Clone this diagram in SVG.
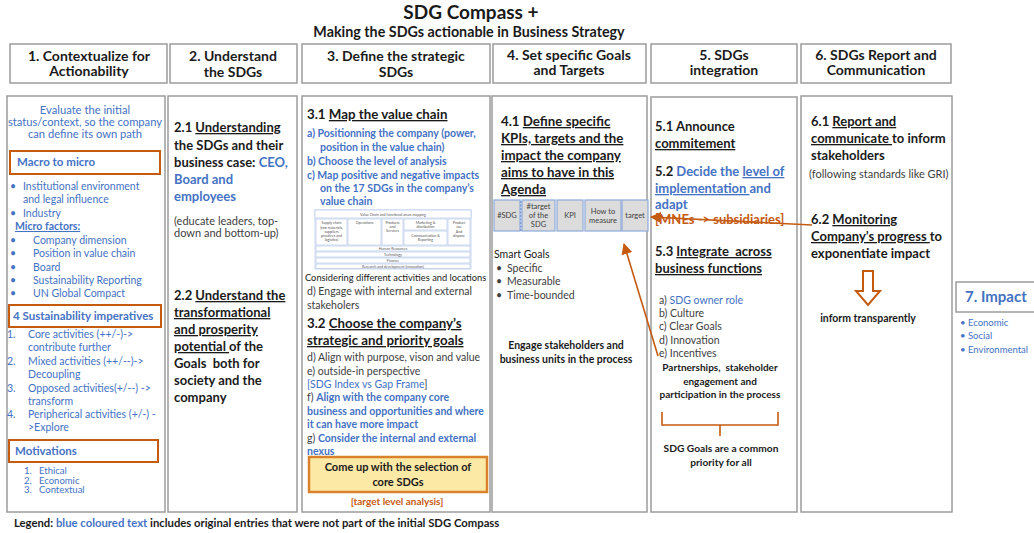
<svg xmlns="http://www.w3.org/2000/svg" width="1034" height="533" viewBox="0 0 1034 533">
  <defs>
    <style>
      text { font-family: Lato, "Liberation Sans", sans-serif; fill: #1a1a1a; }
      .title { font-size: 19px; font-weight: 700; }
      .subtitle { font-size: 14.3px; font-weight: 700; }
      .hdr { font-size: 14px; font-weight: 700; text-anchor: middle; }
      .box { fill: #ffffff; stroke: #9c9c9c; stroke-width: 1.5; }
      .obox { fill: #ffffff; stroke: #c55a11; stroke-width: 2; }
      .blue { fill: #4472c4; }
      .orange { fill: #c55a11; }
      .gray { fill: #404040; }
      .b { font-weight: 700; }
      .u { text-decoration: underline; }
      .c1 { font-size: 10.5px; }
      .c1h { font-size: 11.5px; font-weight: 700; fill: #4472c4; }
      .h2 { font-size: 13px; font-weight: 700; }
      .sm { font-size: 11px; fill: #404040; }
      .t3 { font-size: 13.3px; font-weight: 700; }
      .t3b { font-size: 10.5px; font-weight: 700; fill: #4472c4; }
      .t3n { font-size: 10.5px; fill: #404040; }
      .mid { text-anchor: middle; }
      .vc { fill: #ffffff; stroke: #b4c6e7; stroke-width: 0.7; }
      .vct { font-size: 3.6px; fill: #555; text-anchor: middle; }
      .kpi { fill: #dcdcdc; stroke: #8eaadb; stroke-width: 1.2; }
      .kpit { font-size: 7.5px; fill: #404040; text-anchor: middle; }
      .arrow { fill: none; stroke: #c55a11; stroke-width: 1.6; }
    </style>
    <marker id="ahead" viewBox="0 0 10 10" refX="9" refY="5" markerWidth="7" markerHeight="7" orient="auto">
      <path d="M0,0 L10,5 L0,10 z" fill="#c55a11"/>
    </marker>
  </defs>

  <rect width="1034" height="533" fill="#ffffff"/>

  <!-- Title -->
  <g id="title">
    <text class="title mid" x="471" y="19">SDG Compass +</text>
    <text class="subtitle mid" x="469" y="37">Making the SDGs actionable in Business Strategy</text>
  </g>

  <!-- Step headers -->
  <g id="header-1">
    <rect class="box" x="10" y="44" width="157" height="39"/>
    <text class="hdr" x="89" y="61">1. Contextualize for</text>
    <text class="hdr" x="89" y="76">Actionability</text>
  </g>
  <g id="header-2">
    <rect class="box" x="170" y="44" width="127" height="39"/>
    <text class="hdr" x="233" y="61">2. Understand</text>
    <text class="hdr" x="233" y="77">the SDGs</text>
  </g>
  <g id="header-3">
    <rect class="box" x="302" y="44" width="188" height="39"/>
    <text class="hdr" x="396" y="61">3. Define the strategic</text>
    <text class="hdr" x="396" y="77">SDGs</text>
  </g>
  <g id="header-4">
    <rect class="box" x="493" y="44" width="153" height="39"/>
    <text class="hdr" x="569" y="60">4. Set specific Goals</text>
    <text class="hdr" x="569" y="75">and Targets</text>
  </g>
  <g id="header-5">
    <rect class="box" x="651" y="44" width="146" height="39"/>
    <text class="hdr" x="724" y="60">5. SDGs</text>
    <text class="hdr" x="724" y="75">integration</text>
  </g>
  <g id="header-6">
    <rect class="box" x="801" y="44" width="150" height="39"/>
    <text class="hdr" x="876" y="60">6. SDGs Report and</text>
    <text class="hdr" x="876" y="75">Communication</text>
  </g>

  <!-- Column 1: contextualize -->
  <g id="col-1">
    <rect class="box" x="7" y="96" width="158" height="416"/>
    <text class="blue mid" x="85" y="114" font-size="11.2">Evaluate the initial</text>
    <text class="blue mid" x="85" y="126" font-size="11.2">status/context, so the company</text>
    <text class="blue mid" x="85" y="138" font-size="11.2">can define its own path</text>

    <rect class="obox" x="10" y="151" width="150" height="23"/>
    <text class="c1h" x="17" y="166">Macro to micro</text>

    <text class="c1 blue" x="10" y="190">•<tspan x="23">Institutional environment</tspan></text>
    <text class="c1 blue" x="23" y="203">and legal influence</text>
    <text class="c1 blue" x="10" y="217">•<tspan x="23">Industry</tspan></text>
    <text class="c1 blue b u" x="15" y="230">Micro factors:</text>
    <text class="c1 blue" x="10" y="244">•<tspan x="33">Company dimension</tspan></text>
    <text class="c1 blue" x="10" y="257">•<tspan x="33">Position in value chain</tspan></text>
    <text class="c1 blue" x="10" y="271">•<tspan x="33">Board</tspan></text>
    <text class="c1 blue" x="10" y="284">•<tspan x="33">Sustainability Reporting</tspan></text>
    <text class="c1 blue" x="10" y="297">•<tspan x="33">UN Global Compact</tspan></text>

    <rect class="obox" x="9" y="305" width="152" height="22"/>
    <text class="c1h" x="13" y="320">4 Sustainability imperatives</text>

    <text class="c1 blue" x="7" y="338">1.<tspan x="28">Core activities (++/-)-&gt;</tspan></text>
    <text class="c1 blue" x="28" y="351">contribute further</text>
    <text class="c1 blue" x="7" y="365">2.<tspan x="28">Mixed activities (++/--)-&gt;</tspan></text>
    <text class="c1 blue" x="28" y="378">Decoupling</text>
    <text class="c1 blue" x="7" y="392">3.<tspan x="28">Opposed activities(+/--) -&gt;</tspan></text>
    <text class="c1 blue" x="28" y="405">transform</text>
    <text class="c1 blue" x="7" y="418">4.<tspan x="28">Peripherical activities (+/-) -</tspan></text>
    <text class="c1 blue" x="28" y="431">&gt;Explore</text>

    <rect class="obox" x="9" y="440" width="149" height="22"/>
    <text class="c1h" x="15" y="455">Motivations</text>

    <text class="blue" x="24" y="474" font-size="9.5">1.<tspan x="39">Ethical</tspan></text>
    <text class="blue" x="24" y="483.5" font-size="9.5">2.<tspan x="39">Economic</tspan></text>
    <text class="blue" x="24" y="493" font-size="9.5">3.<tspan x="39">Contextual</tspan></text>
  </g>

  <!-- Column 2: understand -->
  <g id="col-2">
    <rect class="box" x="168" y="96" width="129" height="416"/>
    <text class="h2" x="174" y="132">2.1 <tspan class="u">Understanding</tspan></text>
    <text class="h2" x="174" y="150">the SDGs and their</text>
    <text class="h2" x="174" y="167">business case: <tspan class="blue">CEO,</tspan></text>
    <text class="h2 blue" x="174" y="184">Board and</text>
    <text class="h2 blue" x="174" y="201">employees</text>
    <text class="sm" x="174" y="225">(educate leaders, top-</text>
    <text class="sm" x="174" y="237">down and bottom-up)</text>

    <text class="h2" x="174" y="300">2.2 <tspan class="u">Understand the</tspan></text>
    <text class="h2 u" x="174" y="317">transformational</text>
    <text class="h2 u" x="174" y="334">and prosperity</text>
    <text class="h2" x="174" y="351"><tspan class="u">potential </tspan>of the</text>
    <text class="h2" x="174" y="368" xml:space="preserve">Goals  both for</text>
    <text class="h2" x="174" y="385">society and the</text>
    <text class="h2" x="174" y="402">company</text>
  </g>

  <!-- Column 3: strategic SDGs -->
  <g id="col-3">
    <rect class="box" x="302" y="96" width="188" height="416"/>
    <text class="t3" x="307" y="119" font-size="14">3.1 <tspan class="u">Map the value chain</tspan></text>
    <text class="t3b" x="307" y="137">a)  Positionning the company (power,</text>
    <text class="t3b" x="320" y="151">position in the value chain)</text>
    <text class="t3b" x="307" y="165">b)  Choose the level of analysis</text>
    <text class="t3b" x="307" y="179">c)  Map positive and negative impacts</text>
    <text class="t3b" x="320" y="192">on the 17 SDGs in the company’s</text>
    <text class="t3b" x="320" y="205">value chain</text>

    <!-- value chain mapping table -->
    <g id="value-chain-table">
      <rect class="vc" x="315" y="210" width="156" height="59"/>
      <rect class="vc" x="315" y="210" width="156" height="8"/>
      <text class="vct" x="393" y="215.5">Value Chain and functional areas mapping</text>
      <rect class="vc" x="316" y="219" width="31" height="26"/>
      <text class="vct" x="331.5" y="224">Supply chain</text>
      <text class="vct" x="331.5" y="229">(raw materials,</text>
      <text class="vct" x="331.5" y="233">suppliers</text>
      <text class="vct" x="331.5" y="237">practices and</text>
      <text class="vct" x="331.5" y="241">logistics)</text>
      <rect class="vc" x="348" y="219" width="33" height="26"/>
      <text class="vct" x="364.5" y="224">Operations</text>
      <rect class="vc" x="382" y="219" width="21" height="26"/>
      <text class="vct" x="392.5" y="224">Products</text>
      <text class="vct" x="392.5" y="228">and</text>
      <text class="vct" x="392.5" y="232">Services</text>
      <rect class="vc" x="404" y="219" width="43" height="11"/>
      <text class="vct" x="425.5" y="224">Marketing &amp;</text>
      <text class="vct" x="425.5" y="228">distribution</text>
      <rect class="vc" x="404" y="231" width="43" height="14"/>
      <text class="vct" x="425.5" y="237">Communication &amp;</text>
      <text class="vct" x="425.5" y="241">Reporting</text>
      <rect class="vc" x="448" y="219" width="22" height="26"/>
      <text class="vct" x="459" y="224">Product</text>
      <text class="vct" x="459" y="228">use</text>
      <text class="vct" x="459" y="233">And</text>
      <text class="vct" x="459" y="237">dispose</text>
      <rect class="vc" x="316" y="246" width="154" height="5"/>
      <text class="vct" x="393" y="250">Human Resources</text>
      <rect class="vc" x="316" y="252" width="154" height="5"/>
      <text class="vct" x="393" y="256">Technology</text>
      <rect class="vc" x="316" y="258" width="154" height="5"/>
      <text class="vct" x="393" y="262">Finance</text>
      <rect class="vc" x="316" y="264" width="154" height="4.5"/>
      <text class="vct" x="393" y="267.5">Research and development (innovation)</text>
    </g>

    <text x="305" y="281" font-size="9.3" fill="#404040">Considering different activities and locations</text>
    <text class="t3n" x="307" y="295">d) Engage with internal and external</text>
    <text class="t3n" x="307" y="309">stakeholers</text>

    <text class="t3" x="307" y="328">3.2 <tspan class="u">Choose the company’s</tspan></text>
    <text class="t3 u" x="307" y="345">strategic and priority goals</text>
    <text class="t3n" x="307" y="361">d) Align with purpose, vison and value</text>
    <text class="t3n" x="307" y="375">e) outside-in perspective</text>
    <text class="t3n" x="307" y="388"><tspan class="blue">[SDG Index vs Gap Frame</tspan>]</text>
    <text class="t3n" x="307" y="401">f) <tspan class="blue b">Align with the company core</tspan></text>
    <text class="t3b" x="307" y="415">business and opportunities and where</text>
    <text class="t3b" x="307" y="428">it can have more impact</text>
    <text class="t3n" x="307" y="442">g) <tspan class="blue b">Consider the internal and external</tspan></text>
    <text class="t3b" x="307" y="455">nexus</text>

    <rect x="309" y="457" width="178" height="35" fill="#fde9a6" stroke="#d9822b" stroke-width="2.5"/>
    <text class="mid b" x="398" y="471" font-size="11">Come up with the selection of</text>
    <text class="mid b" x="398" y="486" font-size="11">core SDGs</text>
    <text class="mid b orange" x="397" y="505" font-size="10">[target level analysis]</text>
  </g>

  <!-- Column 4: goals and targets -->
  <g id="col-4">
    <rect class="box" x="492" y="96" width="155" height="416"/>
    <text class="t3" x="501" y="126" font-size="13.8">4.1 <tspan class="u">Define specific</tspan></text>
    <text class="t3 u" x="501" y="143" font-size="13.8">KPIs, targets and the</text>
    <text class="t3 u" x="501" y="160" font-size="13.8">impact the company</text>
    <text class="t3 u" x="501" y="177" font-size="13.8">aims to have in this</text>
    <text class="t3 u" x="501" y="194" font-size="13.8">Agenda</text>

    <rect class="kpi" x="494" y="200" width="26" height="31"/>
    <text class="kpit" x="507" y="218">#SDG</text>
    <line x1="521" y1="201" x2="521" y2="231" stroke="#4472c4" stroke-width="1" stroke-dasharray="2,1.5"/>
    <rect class="kpi" x="522" y="200" width="33" height="31"/>
    <text class="kpit" x="538.5" y="209">#target</text>
    <text class="kpit" x="538.5" y="218">of the</text>
    <text class="kpit" x="538.5" y="227">SDG</text>
    <rect class="kpi" x="557" y="200" width="26" height="31"/>
    <text class="kpit" x="570" y="218">KPI</text>
    <rect class="kpi" x="585" y="200" width="36" height="31"/>
    <text class="kpit" x="603" y="214">How to</text>
    <text class="kpit" x="603" y="223">measure</text>
    <rect class="kpi" x="622" y="200" width="26" height="31"/>
    <text class="kpit" x="635" y="218">target</text>

    <text x="494" y="258" font-size="10.5" fill="#262626">Smart Goals</text>
    <text class="t3n" x="496" y="272">•<tspan x="507">Specific</tspan></text>
    <text class="t3n" x="496" y="285">•<tspan x="507">Measurable</tspan></text>
    <text class="t3n" x="496" y="299">•<tspan x="507">Time-bounded</tspan></text>

    <text class="mid b" x="566" y="349" font-size="10.5">Engage stakeholders and</text>
    <text class="mid b" x="566" y="363" font-size="10.5">business units in the process</text>
  </g>

  <!-- Column 5: integration -->
  <g id="col-5">
    <rect class="box" x="651" y="97" width="146" height="415"/>
    <text class="h2" x="655" y="131">5.1 Announce</text>
    <text class="h2 u" x="655" y="148">commitement</text>
    <text class="h2" x="655" y="176">5.2 <tspan class="blue">Decide the </tspan><tspan class="blue u">level of</tspan></text>
    <text class="h2 blue" x="655" y="193"><tspan class="u">implementation </tspan>and</text>
    <text class="h2 blue" x="655" y="209">adapt</text>
    <text class="h2 orange" x="655" y="224" font-weight="400">[MNEs -&gt; subsidiaries]</text>
    <text class="h2" x="655" y="256" xml:space="preserve">5.3 <tspan class="u">Integrate  across</tspan></text>
    <text class="h2 u" x="655" y="273">business functions</text>

    <text class="t3n" x="659" y="304">a) <tspan class="blue">SDG owner role</tspan></text>
    <text class="t3n" x="659" y="317">b) Culture</text>
    <text class="t3n" x="659" y="330">c) Clear Goals</text>
    <text class="t3n" x="659" y="344">d) Innovation</text>
    <text class="t3n" x="659" y="357">e) Incentives</text>
    <text class="mid b" x="720" y="371" font-size="10" xml:space="preserve">Partnerships,  stakeholder</text>
    <text class="mid b" x="720" y="385" font-size="10">engagement and</text>
    <text class="mid b" x="720" y="398" font-size="10">participation in the process</text>

    <text class="mid b" x="721" y="452" font-size="10.2">SDG Goals are a common</text>
    <text class="mid b" x="721" y="466" font-size="10.2">priority for all</text>
  </g>

  <!-- Column 6: report and communication -->
  <g id="col-6">
    <rect class="box" x="801" y="96" width="151" height="416"/>
    <text class="h2" x="811" y="126">6.1 <tspan class="u">Report and</tspan></text>
    <text class="h2" x="811" y="143"><tspan class="u">communicate </tspan>to inform</text>
    <text class="h2" x="811" y="160">stakeholders</text>
    <text class="sm" x="809" y="178" font-size="10.4">(following standards like GRI)</text>
    <text class="h2" x="811" y="224">6.2 <tspan class="u">Monitoring</tspan></text>
    <text class="h2" x="811" y="241"><tspan class="u">Company’s progress </tspan>to</text>
    <text class="h2" x="811" y="258">exponentiate impact</text>
    <text class="mid b" x="868" y="322" font-size="10.5">inform transparently</text>
  </g>

  <!-- Outcome -->
  <g id="impact">
    <rect class="box" x="956" y="282" width="84" height="30"/>
    <text class="blue b" x="965" y="302" font-size="15">7. Impact</text>
    <text class="blue" x="960" y="326" font-size="9.5">• Economic</text>
    <text class="blue" x="960" y="339" font-size="9.5">• Social</text>
    <text class="blue" x="960" y="353" font-size="9.5">• Environmental</text>
  </g>

  <!-- Legend -->
  <g id="legend">
    <text class="b" x="14" y="527" font-size="11.3">Legend: <tspan class="blue">blue coloured text</tspan> includes original entries that were not part of the initial SDG Compass</text>
  </g>

  <!-- Connectors -->
  <g id="connectors">
    <line class="arrow" x1="812" y1="225" x2="651" y2="217" marker-end="url(#ahead)"/>
    <line class="arrow" x1="658" y1="356" x2="624" y2="244" marker-end="url(#ahead)"/>
    <!-- brace under the partnerships note -->
    <path class="arrow" stroke-width="2" d="M662,412 V425 H778 V412 M720,425 V436"/>
    <!-- hollow down arrow -->
    <path d="M863,271 H873 V291 H880 L868,305 L856,291 H863 Z" fill="#ffffff" stroke="#c55a11" stroke-width="2"/>
  </g>
</svg>
